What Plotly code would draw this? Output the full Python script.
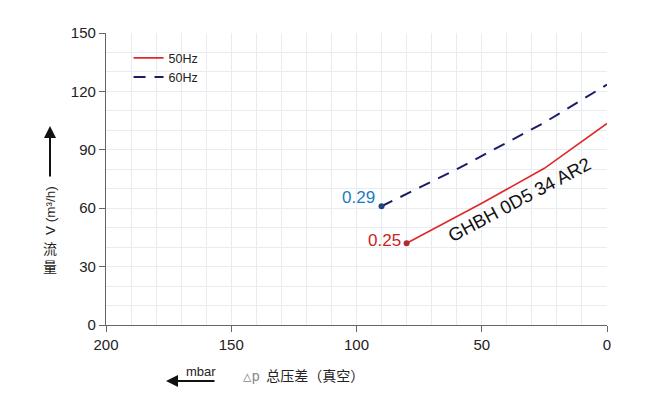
import plotly.graph_objects as go

# Data
p_50 = [80, 50, 25, 0]
q_50 = [42, 62.5, 80.5, 103.5]
p_60 = [90, 60, 25, 0]
q_60 = [61, 80, 104, 123.5]
x_ticks = [200, 150, 100, 50, 0]
y_ticks = [0, 30, 60, 90, 120, 150]
model = "GHBH 0D5 34 AR2"
kw_50 = "0.25"
kw_60 = "0.29"

FONT = "Liberation Sans, Arial, sans-serif"
CJK = "Noto Sans CJK SC, sans-serif"

fig = go.Figure()
fig.add_trace(go.Scatter(x=p_50, y=q_50, mode="lines", name="50Hz",
                         line=dict(color="#e02828", width=1.6)))
fig.add_trace(go.Scatter(x=p_60, y=q_60, mode="lines", name="60Hz",
                         line=dict(color="#1c1c66", width=2, dash="12px,9px")))
# start-point dots
fig.add_trace(go.Scatter(x=[p_50[0]], y=[q_50[0]], mode="markers", showlegend=False,
                         marker=dict(color="#b02a30", size=6)))
fig.add_trace(go.Scatter(x=[p_60[0]], y=[q_60[0]], mode="markers", showlegend=False,
                         marker=dict(color="#23457e", size=6)))

grid = "#e7ecf1"
fig.update_xaxes(range=[200, 0], tickvals=x_ticks, showgrid=True, gridcolor=grid,
                 minor=dict(dtick=10, showgrid=True, gridcolor=grid),
                 showline=True, linecolor="#666", linewidth=1.2,
                 ticks="outside", ticklen=6, tickcolor="#666",
                 tickfont=dict(family=FONT, size=15, color="#222"), zeroline=False)
fig.update_yaxes(range=[0, 150], tickvals=y_ticks, showgrid=True, gridcolor=grid,
                 minor=dict(dtick=10, showgrid=True, gridcolor=grid),
                 showline=True, linecolor="#666", linewidth=1.2,
                 ticks="outside", ticklen=6, tickcolor="#666",
                 tickfont=dict(family=FONT, size=15, color="#222"), zeroline=False)

# plot area in page pixels: left 106, right 607, top 33, bottom 325
def px(xp):
    return (xp - 106) / 501

def py(yp):
    return (325 - yp) / 292

C = dict(xanchor="center", yanchor="middle")

ann = []
ann.append(dict(x=p_60[0], y=q_60[0], xref="x", yref="y", text=kw_60, showarrow=False,
                xanchor="right", yanchor="middle", xshift=-5, yshift=9,
                font=dict(family=FONT, size=17, color="#1a7cc0")))
ann.append(dict(x=p_50[0], y=q_50[0], xref="x", yref="y", text=kw_50, showarrow=False,
                xanchor="right", yanchor="middle", xshift=-4, yshift=3,
                font=dict(family=FONT, size=17, color="#cc2222")))
ann.append(dict(x=35, y=64.7, xref="x", yref="y", text=model, showarrow=False,
                textangle=-28, font=dict(family=FONT, size=18.5, color="#111"), **C))
# y-axis title
ann.append(dict(x=px(50), y=py(211), xref="paper", yref="paper", text="V (m³/h)",
                showarrow=False, textangle=-90, font=dict(family=FONT, size=13.5, color="#222"), **C))
ann.append(dict(x=px(50), y=py(257), xref="paper", yref="paper", text="流<br>量",
                showarrow=False, font=dict(family=CJK, size=14, color="#222"), **C))
ann.append(dict(x=px(50), y=py(126), xref="paper", yref="paper", text="",
                showarrow=True, ax=0, ay=52, arrowhead=2, arrowsize=1.2, arrowwidth=2,
                arrowcolor="#111"))
# x-axis title
ann.append(dict(x=px(166), y=py(381), xref="paper", yref="paper", text="",
                showarrow=True, ax=50, ay=0, arrowhead=2, arrowsize=1.2, arrowwidth=2,
                arrowcolor="#111"))
ann.append(dict(x=px(201), y=py(371), xref="paper", yref="paper", text="mbar",
                showarrow=False, font=dict(family=FONT, size=13, color="#222"), **C))
ann.append(dict(x=px(241), y=py(375), xref="paper", yref="paper",
                text="<span style='color:#888;font-family:DejaVu Sans Mono'>△p</span>  总压差（真空）",
                xanchor="left", yanchor="middle", showarrow=False,
                font=dict(family=CJK, size=14, color="#222")))

# the page body has an 8px margin, so shrink the figure by it
fig.update_layout(
    width=642, height=391,
    margin=dict(l=98, r=43, t=25, b=74),
    paper_bgcolor="white", plot_bgcolor="white",
    annotations=ann,
    legend=dict(x=0.045, y=0.965, xanchor="left", yanchor="top", bgcolor="rgba(0,0,0,0)",
                font=dict(family=FONT, size=12.5, color="#222"), itemwidth=30,
                tracegroupgap=2),
)

fig.write_html("out.html")
